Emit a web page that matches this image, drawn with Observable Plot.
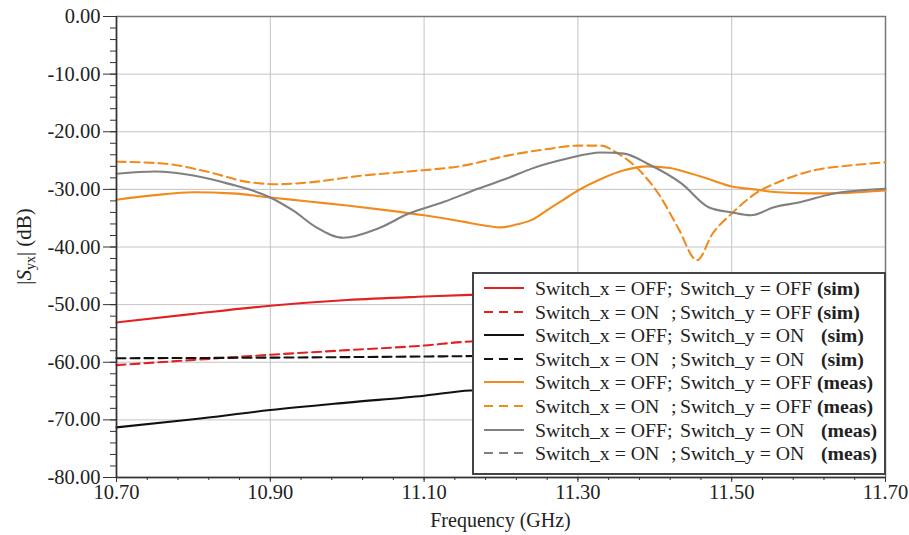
<!DOCTYPE html>
<html>
<head>
<meta charset="utf-8">
<script src="https://cdn.jsdelivr.net/npm/d3@7"></script>
<script src="https://cdn.jsdelivr.net/npm/@observablehq/plot@0.6"></script>
<style>
  html, body { margin: 0; padding: 0; background: white; }
  #wrap { position: relative; width: 909px; height: 535px; font-family: 'Liberation Serif', 'Times New Roman', serif; }
  #legend { position: absolute; left: 472px; top: 272px; width: 414px; height: 203px; box-sizing: border-box;
            border: 2px solid #444; background: white; font-size: 19.8px; color: #222; }
  .row { position: absolute; left: 0; height: 22px; width: 100%; }
  .row span { position: absolute; top: 0; line-height: 22px; white-space: pre; }
  .row svg { position: absolute; left: 9px; top: 0; }
  .tag { font-weight: bold; }
</style>
</head>
<body>
<div id="wrap"></div>
<script>
// ---------- data ----------
const xMajorTicks = [10.70, 10.90, 11.10, 11.30, 11.50, 11.70];
const yMajorTicks = [0, -10, -20, -30, -40, -50, -60, -70, -80];

// Simulated (sim)
const simOffOffF  = [10.70, 10.80, 10.90, 11.00, 11.10, 11.16, 11.19];
const simOffOffDb = [-53.1, -51.6, -50.2, -49.2, -48.6, -48.3, -48.2];
const simOnOffF   = [10.70, 10.80, 10.90, 11.00, 11.10, 11.16, 11.19];
const simOnOffDb  = [-60.5, -59.6, -58.7, -57.9, -57.1, -56.4, -56.3];
const simOffOnF   = [10.70, 10.80, 10.90, 11.00, 11.10, 11.16, 11.19];
const simOffOnDb  = [-71.3, -69.9, -68.3, -67.0, -65.8, -64.9, -64.8];
const simOnOnF    = [10.70, 10.90, 11.10, 11.19];
const simOnOnDb   = [-59.3, -59.2, -59.0, -58.9];

// Measured (meas)
const measOffOffF  = [10.70, 10.75, 10.80, 10.85, 10.90, 10.95, 11.00, 11.05, 11.10, 11.15, 11.18, 11.20, 11.22, 11.24, 11.26, 11.28, 11.30, 11.33, 11.36, 11.39, 11.42, 11.44, 11.47, 11.50, 11.53, 11.56, 11.60, 11.65, 11.70];
const measOffOffDb = [-31.8, -31.0, -30.5, -30.7, -31.4, -32.1, -32.8, -33.6, -34.5, -35.6, -36.3, -36.6, -36.1, -35.3, -33.6, -31.9, -30.2, -28.2, -26.7, -26.0, -26.3, -27.0, -28.2, -29.5, -30.0, -30.5, -30.7, -30.6, -30.2];
const measOnOffF   = [10.70, 10.76, 10.82, 10.87, 10.91, 10.95, 11.02, 11.08, 11.15, 11.21, 11.26, 11.30, 11.33, 11.35, 11.38, 11.405, 11.43, 11.455, 11.475, 11.50, 11.53, 11.565, 11.61, 11.65, 11.70];
const measOnOffDb  = [-25.2, -25.5, -27.0, -28.7, -29.1, -28.8, -27.6, -26.9, -25.9, -24.1, -23.0, -22.4, -22.4, -23.6, -26.7, -30.8, -36.6, -42.3, -37.7, -34.2, -30.8, -28.5, -26.6, -25.9, -25.3];
const measOffOnF   = [10.70, 10.75, 10.80, 10.845, 10.90, 10.93, 10.96, 10.995, 11.04, 11.08, 11.125, 11.17, 11.21, 11.24, 11.285, 11.33, 11.36, 11.39, 11.435, 11.47, 11.50, 11.525, 11.555, 11.59, 11.63, 11.70];
const measOffOnDb  = [-27.3, -26.9, -27.6, -29.0, -31.4, -33.7, -36.6, -38.4, -36.8, -34.2, -32.2, -29.9, -28.0, -26.4, -24.7, -23.6, -23.8, -25.5, -29.0, -33.1, -34.0, -34.5, -33.1, -32.2, -30.8, -29.9];

const legendLabels = [
  ["Switch_x = OFF;", "", "Switch_y = OFF", "(sim)"],
  ["Switch_x = ON", ";", "Switch_y = OFF", "(sim)"],
  ["Switch_x = OFF;", "", "Switch_y = ON", "(sim)"],
  ["Switch_x = ON", ";", "Switch_y = ON", "(sim)"],
  ["Switch_x = OFF;", "", "Switch_y = OFF", "(meas)"],
  ["Switch_x = ON", ";", "Switch_y = OFF", "(meas)"],
  ["Switch_x = OFF;", "", "Switch_y = ON", "(meas)"],
  ["Switch_x = ON", ";", "Switch_y = ON", "(meas)"]
];

// ---------- styles ----------
const RED = "#e02222", BLACK = "#111111", ORANGE = "#f08c1e", GRAY = "#808080";
const DASH = "9,5";
const seriesStyles = [
  {stroke: RED, dash: null}, {stroke: RED, dash: DASH},
  {stroke: BLACK, dash: null}, {stroke: BLACK, dash: DASH},
  {stroke: ORANGE, dash: null}, {stroke: ORANGE, dash: DASH},
  {stroke: GRAY, dash: null}, {stroke: GRAY, dash: DASH}
];
const seriesData = [
  [simOffOffF, simOffOffDb], [simOnOffF, simOnOffDb],
  [simOffOnF, simOffOnDb], [simOnOnF, simOnOnDb],
  [measOffOffF, measOffOffDb], [measOnOffF, measOnOffDb],
  [measOffOnF, measOffOnDb], null
];
const toRows = (F, Y) => F.map((f, i) => ({f, db: Y[i]}));

const yMinor = d3.range(-80, 0.1, 2);
const xMinor = d3.range(0, 26).map(i => +(10.70 + i * 0.04).toFixed(2));

const lineMarks = [];
seriesData.forEach((s, i) => {
  if (!s) return;
  const st = seriesStyles[i];
  lineMarks.push(Plot.line(toRows(s[0], s[1]), {
    x: "f", y: "db", stroke: st.stroke, strokeWidth: 2.1,
    strokeDasharray: st.dash || undefined, curve: "monotone-x"
  }));
});

const fmt = d => d.toFixed(2);

const chart = Plot.plot({
  width: 909, height: 535,
  marginLeft: 116, marginRight: 24, marginTop: 16, marginBottom: 58,
  x: {domain: [10.7, 11.7]},
  y: {domain: [-80, 0]},
  style: {fontFamily: "'Liberation Serif', 'Times New Roman', serif", fontSize: "20.5px", color: "#222", background: "white"},
  marks: [
    Plot.gridY(yMajorTicks.filter(d => d > -80 && d < 0), {stroke: "#c4c4c4", strokeOpacity: 1, strokeWidth: 1}),
    Plot.gridX(xMajorTicks.filter(d => d > 10.7 && d < 11.7), {stroke: "#c4c4c4", strokeOpacity: 1, strokeWidth: 1}),
    Plot.frame({stroke: "#777", strokeWidth: 1.5}),
    ...lineMarks,
    Plot.axisY(yMinor, {tickSize: 6, tickFormat: () => "", label: null, stroke: "#333"}),
    Plot.axisY(yMajorTicks, {tickSize: 13, tickPadding: 3, tickFormat: fmt, label: null, stroke: "#333", fill: "#222"}),
    Plot.axisX(xMinor, {tickSize: 3, tickFormat: () => "", label: null, stroke: "#333"}),
    Plot.axisX(xMajorTicks, {tickSize: 5, tickPadding: 2, tickFormat: fmt, label: null, stroke: "#333", fill: "#222"}),
    Plot.ruleY([-80], {stroke: "#333", strokeWidth: 1.5}),
    Plot.ruleX([10.7], {stroke: "#333", strokeWidth: 1.5})
  ]
});

const wrap = document.getElementById("wrap");
wrap.appendChild(chart);

// axis titles
const svg = d3.select(chart);
const xs = chart.scale("x"), ys = chart.scale("y");
const xMid = (xs.apply(10.7) + xs.apply(11.7)) / 2;
svg.append("text")
  .attr("x", xMid).attr("y", 527)
  .attr("text-anchor", "middle")
  .attr("font-size", 20).attr("fill", "#222")
  .text("Frequency (GHz)");
const yMid = (ys.apply(0) + ys.apply(-80)) / 2;
const yl = svg.append("text")
  .attr("transform", `translate(31,${yMid}) rotate(-90)`)
  .attr("text-anchor", "middle")
  .attr("font-size", 21).attr("fill", "#222");
yl.append("tspan").text("|");
yl.append("tspan").attr("font-style", "italic").text("S");
yl.append("tspan").attr("font-size", 14).attr("dy", 4).text("yx");
yl.append("tspan").attr("dy", -4).text("| (dB)");

// legend
const leg = document.createElement("div");
leg.id = "legend";
legendLabels.forEach((lab, i) => {
  const row = document.createElement("div");
  row.className = "row";
  row.style.top = (3 + i * 23.6) + "px";
  const st = seriesStyles[i];
  row.innerHTML =
    `<svg width="44" height="22"><line x1="1" x2="41" y1="11" y2="11" stroke="${st.stroke}" stroke-width="2.2" ${st.dash ? `stroke-dasharray="9,6"` : ""}/></svg>` +
    `<span style="left:61px">${lab[0]}</span>` +
    (lab[1] ? `<span style="left:197px">${lab[1]}</span>` : "") +
    `<span style="left:206px">${lab[2]}</span>` +
    `<span class="tag" style="left:${lab[2].endsWith("OFF") ? 343 : 347}px">${lab[3]}</span>`;
  leg.appendChild(row);
});
wrap.appendChild(leg);
</script>
</body>
</html>
